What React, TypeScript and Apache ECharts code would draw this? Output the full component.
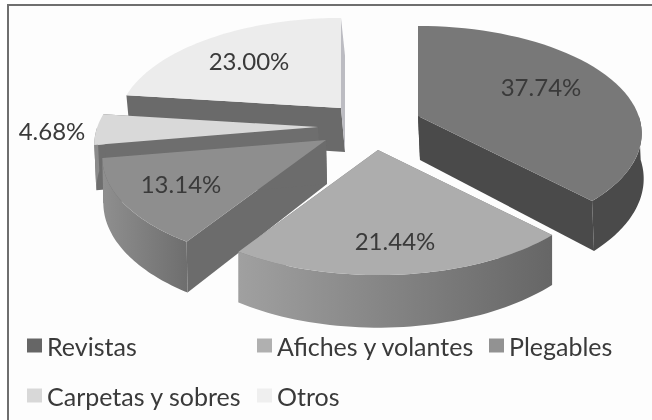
import React, { useEffect, useRef } from "react";
import * as echarts from "echarts";

const categories = ["Revistas", "Afiches y volantes", "Plegables", "Carpetas y sobres", "Otros"];
const shares = [37.74, 21.44, 13.14, 4.68, 23.0];
const shareLabels = ["37.74%", "21.44%", "13.14%", "4.68%", "23.00%"];

// Layout and style, per slice
const apexes = [[418, 116], [378, 150], [326, 140], [318, 127], [341, 108]];
const labelPositions = [[541, 86], [395, 240], [181, 183], [52, 130], [249, 60]];
const topColors = ["#787878", "#adadad", "#8e8e8e", "#d9d9d9", "#ececec"];
const legendColors = ["#666666", "#b0b0b0", "#929292", "#d8d8d8", "#efefef"];
const startWallColors = ["#4a4a4a", "#7a7a7a", "#6c6c6c", "#6e6e6e", "#6a6a6a"];
const endWallColors = ["#4a4a4a", "#7a7a7a", "#6c6c6c", "#6e6e6e", "#bcbcc2"];
const arcWallColors = [
  ["#4a4a4a", "#4a4a4a"],
  ["#a0a0a0", "#666666"],
  ["#8f8f8f", "#6e6e6e"],
  ["#8a8a8a", "#8a8a8a"],
  ["#6a6a6a", "#6a6a6a"],
];
const depthShift = [2, 0, 1, 2, 4];
const zOrder = [4, 5, 3, 2, 1];
const legendLeft = [27, 257, 489, 27, 257];
const legendTop = [333, 333, 333, 383, 383];

const RADIUS = 220.7;
const TILT = 104.7;
const PERSPECTIVE = 0.163;
const DEPTH = 44;
const FONT = "Lato, 'Open Sans', sans-serif";
const TEXT_COLOR = "#3a3a3a";

const project = (deg: number): number[] => {
  const a = (deg * Math.PI) / 180;
  const u = Math.sin(a);
  const v = Math.cos(a);
  const s = 1 / (1 + PERSPECTIVE * v);
  return [RADIUS * u * s, -TILT * v * s, s];
};

const makeRenderItem = (index: number) => (_params: any, api: any) => {
  const value = api.value(0) as number;
  const before = api.value(1) as number;
  const from = (before / 100) * 360;
  const to = ((before + value) / 100) * 360;
  const [ax, ay] = apexes[index];
  const dx = depthShift[index];

  const sample = (a: number, b: number) => {
    const pts: number[][] = [];
    const steps = 48;
    for (let i = 0; i <= steps; i++) {
      const p = project(a + ((b - a) * i) / steps);
      pts.push([ax + p[0], ay + p[1], p[2]]);
    }
    return pts;
  };
  const arc = sample(from, to);
  const frontFrom = Math.max(from, 90);
  const frontTo = Math.min(to, 270);
  const frontArc = frontTo > frontFrom ? sample(frontFrom, frontTo) : [];

  const shifted = (p: number[]) => [p[0] + dx, p[1] + DEPTH * p[2]];
  const flat = (p: number[]) => [p[0], p[1]];
  const apex = [ax, ay, 1];
  const first = arc[0];
  const last = arc[arc.length - 1];

  const poly = (points: number[][], fill: any) => ({
    type: "polygon",
    shape: { points },
    style: { fill, stroke: "none" },
    silent: true,
  });

  const [c0, c1] = arcWallColors[index];
  const arcFill = {
    type: "linear",
    x: 0,
    y: 0,
    x2: 1,
    y2: 0,
    colorStops: [
      { offset: 0, color: c0 },
      { offset: 1, color: c1 },
    ],
  };

  const children: any[] = [
    poly([flat(apex), flat(first), shifted(first), shifted(apex)], startWallColors[index]),
    poly([flat(apex), flat(last), shifted(last), shifted(apex)], endWallColors[index]),
  ];
  if (frontArc.length) {
    children.push(poly([...frontArc.map(flat), ...frontArc.map(shifted).reverse()], arcFill));
  }
  children.push(poly([flat(apex), ...arc.map(flat)], topColors[index]));
  children.push({
    type: "text",
    x: labelPositions[index][0],
    y: labelPositions[index][1],
    silent: true,
    style: {
      text: shareLabels[index],
      font: `24px ${FONT}`,
      fill: TEXT_COLOR,
      align: "center",
      verticalAlign: "middle",
    },
  });
  return { type: "group", children };
};

export default function App() {
  const ref = useRef<HTMLDivElement>(null);
  useEffect(() => {
    document.body.style.margin = "0";
    const chart = echarts.init(ref.current!, undefined, { renderer: "svg" });
    let running = 0;
    const series = categories.map((name, i) => {
      const datum = [shares[i], running];
      running += shares[i];
      return {
        type: "custom",
        name,
        coordinateSystem: "none",
        z: zOrder[i],
        renderItem: makeRenderItem(i),
        data: [datum],
        itemStyle: { color: legendColors[i] },
      };
    });
    chart.setOption({
      animation: false,
      backgroundColor: "#fdfdfd",
      legend: categories.map((name, i) => ({
        data: [{ name, icon: "rect", itemStyle: { color: legendColors[i] } }],
        left: legendLeft[i],
        top: legendTop[i],
        padding: 0,
        itemWidth: 15,
        itemHeight: 14,
        selectedMode: false,
        textStyle: { fontFamily: FONT, fontSize: 25, color: TEXT_COLOR },
      })),
      graphic: [
        { type: "rect", shape: { x: 0, y: 0, width: 7, height: 420 }, style: { fill: "#ffffff" }, silent: true },
        { type: "rect", shape: { x: 0, y: 0, width: 652, height: 4 }, style: { fill: "#ffffff" }, silent: true },
        { type: "rect", shape: { x: 7, y: 4, width: 2, height: 416 }, style: { fill: "#6f6f6f" }, silent: true },
        { type: "rect", shape: { x: 7, y: 4, width: 645, height: 2 }, style: { fill: "#6f6f6f" }, silent: true },
      ],
      series,
    });
    return () => chart.dispose();
  }, []);
  return <div ref={ref} style={{ width: 652, height: 420, filter: "blur(0.6px)" }} />;
}
